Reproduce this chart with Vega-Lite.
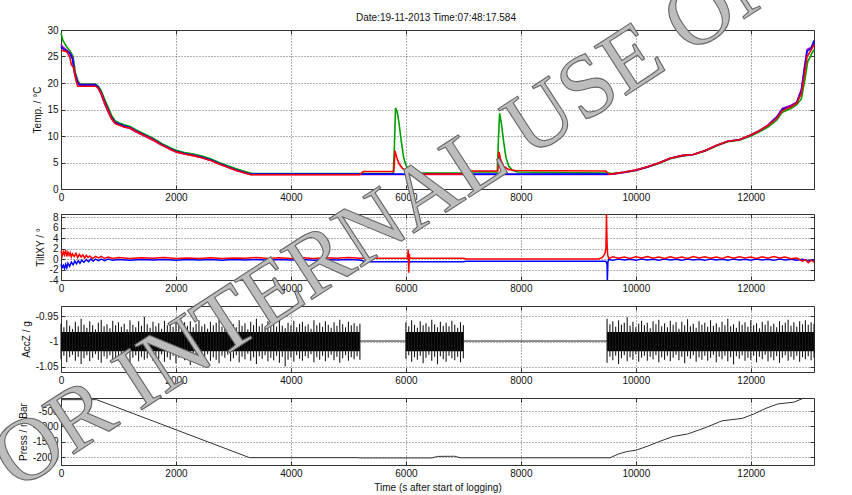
{
"$schema": "https://vega.github.io/schema/vega-lite/v6.json",
"width": 753, "height": 435,
"autosize": {"type": "none"},
"padding": {"left": 61, "top": 30, "right": 38, "bottom": 30},
"background": "white",
"datasets": {
"temp": [
{"t":0,"v":29.4,"s":"G"},{"t":35,"v":28.0,"s":"G"},{"t":100,"v":26.8,"s":"G"},{"t":160,"v":26.0,"s":"G"},{"t":210,"v":25.0,"s":"G"},{"t":250,"v":22.0,"s":"G"},{"t":300,"v":20.3,"s":"G"},{"t":340,"v":19.8,"s":"G"},{"t":600,"v":19.8,"s":"G"},{"t":650,"v":19.4,"s":"G"},{"t":700,"v":18.5,"s":"G"},{"t":760,"v":16.9,"s":"G"},{"t":820,"v":15.4,"s":"G"},{"t":880,"v":13.9,"s":"G"},{"t":940,"v":12.9,"s":"G"},{"t":1000,"v":12.5,"s":"G"},{"t":1100,"v":12.1,"s":"G"},{"t":1200,"v":11.8,"s":"G"},{"t":1300,"v":11.2,"s":"G"},{"t":1450,"v":10.4,"s":"G"},{"t":1600,"v":9.6,"s":"G"},{"t":1750,"v":8.6,"s":"G"},{"t":1900,"v":7.8,"s":"G"},{"t":2000,"v":7.3,"s":"G"},{"t":2150,"v":6.9,"s":"G"},{"t":2300,"v":6.6,"s":"G"},{"t":2450,"v":6.2,"s":"G"},{"t":2600,"v":5.7,"s":"G"},{"t":2750,"v":5.0,"s":"G"},{"t":2900,"v":4.4,"s":"G"},{"t":3050,"v":3.8,"s":"G"},{"t":3200,"v":3.3,"s":"G"},{"t":3320,"v":2.9,"s":"G"},{"t":5780,"v":2.9,"s":"G"},{"t":5800,"v":8.0,"s":"G"},{"t":5820,"v":15.3,"s":"G"},{"t":5850,"v":14.5,"s":"G"},{"t":5880,"v":12.5,"s":"G"},{"t":5920,"v":9.0,"s":"G"},{"t":5960,"v":6.0,"s":"G"},{"t":6000,"v":4.5,"s":"G"},{"t":6060,"v":3.5,"s":"G"},{"t":6150,"v":3.0,"s":"G"},{"t":7000,"v":3.0,"s":"G"},{"t":7050,"v":3.2,"s":"G"},{"t":7590,"v":3.2,"s":"G"},{"t":7610,"v":9.5,"s":"G"},{"t":7630,"v":14.3,"s":"G"},{"t":7660,"v":12.5,"s":"G"},{"t":7700,"v":9.0,"s":"G"},{"t":7740,"v":6.0,"s":"G"},{"t":7790,"v":4.3,"s":"G"},{"t":7860,"v":3.5,"s":"G"},{"t":7950,"v":3.2,"s":"G"},{"t":9500,"v":3.0,"s":"G"},{"t":9600,"v":2.9,"s":"G"},{"t":9800,"v":3.1,"s":"G"},{"t":10000,"v":3.5,"s":"G"},{"t":10200,"v":4.1,"s":"G"},{"t":10400,"v":4.8,"s":"G"},{"t":10600,"v":5.7,"s":"G"},{"t":10800,"v":6.2,"s":"G"},{"t":11000,"v":6.5,"s":"G"},{"t":11200,"v":7.1,"s":"G"},{"t":11400,"v":8.1,"s":"G"},{"t":11600,"v":8.9,"s":"G"},{"t":11800,"v":9.2,"s":"G"},{"t":12000,"v":10.0,"s":"G"},{"t":12150,"v":10.8,"s":"G"},{"t":12300,"v":11.7,"s":"G"},{"t":12450,"v":13.0,"s":"G"},{"t":12550,"v":14.5,"s":"G"},{"t":12700,"v":15.2,"s":"G"},{"t":12800,"v":15.9,"s":"G"},{"t":12880,"v":17.0,"s":"G"},{"t":12940,"v":20.5,"s":"G"},{"t":12990,"v":24.0,"s":"G"},{"t":13050,"v":25.3,"s":"G"},{"t":13100,"v":26.3,"s":"G"},
{"t":0,"v":27.3,"s":"M"},{"t":30,"v":26.8,"s":"M"},{"t":100,"v":26.2,"s":"M"},{"t":160,"v":25.6,"s":"M"},{"t":200,"v":24.8,"s":"M"},{"t":240,"v":22.0,"s":"M"},{"t":290,"v":20.2,"s":"M"},{"t":330,"v":19.7,"s":"M"},{"t":600,"v":19.7,"s":"M"},{"t":650,"v":19.0,"s":"M"},{"t":700,"v":17.8,"s":"M"},{"t":760,"v":16.0,"s":"M"},{"t":820,"v":14.5,"s":"M"},{"t":880,"v":13.2,"s":"M"},{"t":940,"v":12.4,"s":"M"},{"t":1000,"v":12.1,"s":"M"},{"t":1100,"v":11.7,"s":"M"},{"t":1200,"v":11.4,"s":"M"},{"t":1300,"v":10.8,"s":"M"},{"t":1450,"v":10.0,"s":"M"},{"t":1600,"v":9.2,"s":"M"},{"t":1750,"v":8.3,"s":"M"},{"t":1900,"v":7.5,"s":"M"},{"t":2000,"v":7.0,"s":"M"},{"t":2150,"v":6.6,"s":"M"},{"t":2300,"v":6.3,"s":"M"},{"t":2450,"v":5.9,"s":"M"},{"t":2600,"v":5.4,"s":"M"},{"t":2750,"v":4.7,"s":"M"},{"t":2900,"v":4.1,"s":"M"},{"t":3050,"v":3.5,"s":"M"},{"t":3200,"v":3.0,"s":"M"},{"t":3300,"v":2.75,"s":"M"},{"t":9500,"v":2.75,"s":"M"},{"t":9600,"v":2.8,"s":"M"},{"t":9800,"v":3.1,"s":"M"},{"t":10000,"v":3.5,"s":"M"},{"t":10200,"v":4.1,"s":"M"},{"t":10400,"v":4.9,"s":"M"},{"t":10600,"v":5.8,"s":"M"},{"t":10800,"v":6.3,"s":"M"},{"t":11000,"v":6.5,"s":"M"},{"t":11200,"v":7.2,"s":"M"},{"t":11400,"v":8.2,"s":"M"},{"t":11600,"v":9.0,"s":"M"},{"t":11800,"v":9.3,"s":"M"},{"t":12000,"v":10.2,"s":"M"},{"t":12150,"v":11.0,"s":"M"},{"t":12300,"v":12.1,"s":"M"},{"t":12450,"v":13.6,"s":"M"},{"t":12550,"v":15.2,"s":"M"},{"t":12700,"v":15.8,"s":"M"},{"t":12800,"v":16.4,"s":"M"},{"t":12880,"v":18.8,"s":"M"},{"t":12940,"v":23.5,"s":"M"},{"t":12980,"v":26.3,"s":"M"},{"t":13050,"v":26.7,"s":"M"},{"t":13100,"v":27.5,"s":"M"},
{"t":0,"v":26.8,"s":"B"},{"t":30,"v":26.5,"s":"B"},{"t":100,"v":26.0,"s":"B"},{"t":160,"v":25.5,"s":"B"},{"t":200,"v":24.5,"s":"B"},{"t":240,"v":21.5,"s":"B"},{"t":290,"v":20.0,"s":"B"},{"t":330,"v":19.6,"s":"B"},{"t":600,"v":19.6,"s":"B"},{"t":650,"v":19.2,"s":"B"},{"t":700,"v":18.2,"s":"B"},{"t":760,"v":16.5,"s":"B"},{"t":820,"v":15.0,"s":"B"},{"t":880,"v":13.5,"s":"B"},{"t":940,"v":12.6,"s":"B"},{"t":1000,"v":12.3,"s":"B"},{"t":1100,"v":11.9,"s":"B"},{"t":1200,"v":11.6,"s":"B"},{"t":1300,"v":11.0,"s":"B"},{"t":1450,"v":10.2,"s":"B"},{"t":1600,"v":9.4,"s":"B"},{"t":1750,"v":8.4,"s":"B"},{"t":1900,"v":7.6,"s":"B"},{"t":2000,"v":7.1,"s":"B"},{"t":2150,"v":6.7,"s":"B"},{"t":2300,"v":6.4,"s":"B"},{"t":2450,"v":6.0,"s":"B"},{"t":2600,"v":5.5,"s":"B"},{"t":2750,"v":4.8,"s":"B"},{"t":2900,"v":4.2,"s":"B"},{"t":3050,"v":3.6,"s":"B"},{"t":3200,"v":3.1,"s":"B"},{"t":3300,"v":2.8,"s":"B"},{"t":9500,"v":2.8,"s":"B"},{"t":9600,"v":2.85,"s":"B"},{"t":9800,"v":3.2,"s":"B"},{"t":10000,"v":3.6,"s":"B"},{"t":10200,"v":4.2,"s":"B"},{"t":10400,"v":4.9,"s":"B"},{"t":10600,"v":5.8,"s":"B"},{"t":10800,"v":6.3,"s":"B"},{"t":11000,"v":6.5,"s":"B"},{"t":11200,"v":7.2,"s":"B"},{"t":11400,"v":8.2,"s":"B"},{"t":11600,"v":9.0,"s":"B"},{"t":11800,"v":9.3,"s":"B"},{"t":12000,"v":10.2,"s":"B"},{"t":12150,"v":11.0,"s":"B"},{"t":12300,"v":12.0,"s":"B"},{"t":12450,"v":13.5,"s":"B"},{"t":12550,"v":15.0,"s":"B"},{"t":12700,"v":15.6,"s":"B"},{"t":12800,"v":16.3,"s":"B"},{"t":12880,"v":18.5,"s":"B"},{"t":12940,"v":23.0,"s":"B"},{"t":12980,"v":26.0,"s":"B"},{"t":13050,"v":26.5,"s":"B"},{"t":13100,"v":28.0,"s":"B"},
{"t":0,"v":26.2,"s":"R"},{"t":100,"v":25.9,"s":"R"},{"t":150,"v":25.0,"s":"R"},{"t":180,"v":23.5,"s":"R"},{"t":220,"v":22.8,"s":"R"},{"t":260,"v":20.5,"s":"R"},{"t":290,"v":19.4,"s":"R"},{"t":600,"v":19.4,"s":"R"},{"t":650,"v":19.0,"s":"R"},{"t":700,"v":18.0,"s":"R"},{"t":760,"v":16.3,"s":"R"},{"t":820,"v":14.8,"s":"R"},{"t":880,"v":13.3,"s":"R"},{"t":940,"v":12.4,"s":"R"},{"t":1000,"v":12.1,"s":"R"},{"t":1100,"v":11.7,"s":"R"},{"t":1200,"v":11.5,"s":"R"},{"t":1300,"v":10.9,"s":"R"},{"t":1450,"v":10.1,"s":"R"},{"t":1600,"v":9.3,"s":"R"},{"t":1750,"v":8.3,"s":"R"},{"t":1900,"v":7.5,"s":"R"},{"t":2000,"v":7.0,"s":"R"},{"t":2150,"v":6.6,"s":"R"},{"t":2300,"v":6.3,"s":"R"},{"t":2450,"v":5.9,"s":"R"},{"t":2600,"v":5.4,"s":"R"},{"t":2750,"v":4.7,"s":"R"},{"t":2900,"v":4.1,"s":"R"},{"t":3050,"v":3.5,"s":"R"},{"t":3200,"v":3.0,"s":"R"},{"t":3300,"v":2.7,"s":"R"},{"t":5200,"v":2.7,"s":"R"},{"t":5260,"v":3.3,"s":"R"},{"t":5790,"v":3.3,"s":"R"},{"t":5810,"v":7.2,"s":"R"},{"t":5840,"v":6.0,"s":"R"},{"t":5880,"v":4.8,"s":"R"},{"t":5940,"v":3.9,"s":"R"},{"t":6020,"v":3.3,"s":"R"},{"t":6100,"v":2.8,"s":"R"},{"t":6990,"v":2.8,"s":"R"},{"t":7030,"v":3.4,"s":"R"},{"t":7600,"v":3.4,"s":"R"},{"t":7620,"v":7.0,"s":"R"},{"t":7650,"v":5.5,"s":"R"},{"t":7700,"v":4.3,"s":"R"},{"t":7780,"v":3.7,"s":"R"},{"t":7900,"v":3.5,"s":"R"},{"t":9480,"v":3.4,"s":"R"},{"t":9530,"v":2.8,"s":"R"},{"t":9600,"v":2.85,"s":"R"},{"t":9800,"v":3.2,"s":"R"},{"t":10000,"v":3.6,"s":"R"},{"t":10200,"v":4.2,"s":"R"},{"t":10400,"v":4.9,"s":"R"},{"t":10600,"v":5.8,"s":"R"},{"t":10800,"v":6.3,"s":"R"},{"t":11000,"v":6.5,"s":"R"},{"t":11200,"v":7.2,"s":"R"},{"t":11400,"v":8.2,"s":"R"},{"t":11600,"v":9.0,"s":"R"},{"t":11800,"v":9.3,"s":"R"},{"t":12000,"v":10.2,"s":"R"},{"t":12150,"v":11.0,"s":"R"},{"t":12300,"v":12.0,"s":"R"},{"t":12450,"v":13.3,"s":"R"},{"t":12550,"v":14.8,"s":"R"},{"t":12700,"v":15.5,"s":"R"},{"t":12800,"v":16.2,"s":"R"},{"t":12880,"v":18.0,"s":"R"},{"t":12940,"v":22.0,"s":"R"},{"t":12980,"v":25.0,"s":"R"},{"t":13050,"v":26.2,"s":"R"},{"t":13100,"v":27.2,"s":"R"}
],
"tiltR": [
{"t":0,"v":1.5},{"t":20,"v":0.6},{"t":40,"v":1.4},{"t":60,"v":0.8},{"t":80,"v":1.7},{"t":100,"v":0.5},{"t":120,"v":1.3},{"t":140,"v":0.7},{"t":160,"v":1.2},{"t":180,"v":0.4},{"t":200,"v":1.0},{"t":230,"v":0.5},{"t":260,"v":1.1},{"t":290,"v":0.3},{"t":320,"v":0.9},{"t":350,"v":0.4},{"t":380,"v":0.8},{"t":410,"v":0.2},{"t":440,"v":0.7},{"t":470,"v":0.3},{"t":500,"v":0.6},{"t":550,"v":0.1},{"t":600,"v":0.5},{"t":650,"v":0.2},{"t":700,"v":0.5},{"t":760,"v":0.1},{"t":820,"v":0.4},{"t":900,"v":0.1},{"t":1000,"v":0.3},{"t":1200,"v":0.1},{"t":1400,"v":0.25},{"t":1600,"v":0.15},{"t":1800,"v":0.28},{"t":2000,"v":0.1},{"t":2200,"v":0.2},{"t":2400,"v":0.12},{"t":2600,"v":0.27},{"t":2800,"v":0.1},{"t":3000,"v":0.22},{"t":3200,"v":0.15},{"t":3400,"v":0.28},{"t":3600,"v":0.1},{"t":3800,"v":0.25},{"t":4000,"v":0.12},{"t":4200,"v":0.27},{"t":4400,"v":0.1},{"t":4600,"v":0.25},{"t":4800,"v":0.15},{"t":5000,"v":0.28},{"t":5200,"v":0.15},{"t":6030,"v":0.15},{"t":6040,"v":1.8},{"t":6050,"v":-2.6},{"t":6060,"v":1.0},{"t":6070,"v":0.2},{"t":6100,"v":0.15},{"t":7000,"v":0.15},{"t":7050,"v":0.0},{"t":9350,"v":0.0},{"t":9420,"v":0.3},{"t":9460,"v":1.0},{"t":9480,"v":2.0},{"t":9490,"v":8.6},{"t":9500,"v":3.0},{"t":9510,"v":0.8},{"t":9530,"v":0.1},{"t":9600,"v":0.45},{"t":9700,"v":0.15},{"t":9800,"v":0.4},{"t":9900,"v":0.1},{"t":10000,"v":0.45},{"t":10100,"v":0.2},{"t":10200,"v":0.5},{"t":10300,"v":0.15},{"t":10400,"v":0.4},{"t":10500,"v":0.1},{"t":10600,"v":0.45},{"t":10700,"v":0.15},{"t":10800,"v":0.4},{"t":10900,"v":0.1},{"t":11000,"v":0.5},{"t":11100,"v":0.2},{"t":11200,"v":0.45},{"t":11300,"v":0.15},{"t":11400,"v":0.4},{"t":11500,"v":0.1},{"t":11600,"v":0.5},{"t":11700,"v":0.15},{"t":11800,"v":0.45},{"t":11900,"v":0.2},{"t":12000,"v":0.4},{"t":12100,"v":0.1},{"t":12200,"v":0.45},{"t":12300,"v":0.15},{"t":12400,"v":0.5},{"t":12500,"v":0.2},{"t":12600,"v":0.4},{"t":12700,"v":0.05},{"t":12800,"v":0.2},{"t":12900,"v":-0.4},{"t":12950,"v":-0.1},{"t":13000,"v":-0.7},{"t":13050,"v":-0.2},{"t":13100,"v":-0.6}
],
"tiltB": [
{"t":0,"v":-1.0},{"t":20,"v":-1.6},{"t":40,"v":-1.2},{"t":60,"v":-1.8},{"t":80,"v":-1.0},{"t":100,"v":-1.7},{"t":120,"v":-0.8},{"t":150,"v":-1.4},{"t":180,"v":-0.6},{"t":210,"v":-1.1},{"t":240,"v":-0.4},{"t":270,"v":-0.9},{"t":300,"v":-0.3},{"t":330,"v":-0.8},{"t":360,"v":-0.2},{"t":400,"v":-0.6},{"t":440,"v":-0.1},{"t":480,"v":-0.5},{"t":520,"v":0.0},{"t":560,"v":-0.4},{"t":600,"v":0.0},{"t":650,"v":-0.3},{"t":700,"v":0.0},{"t":760,"v":-0.3},{"t":820,"v":0.0},{"t":900,"v":-0.25},{"t":1000,"v":-0.1},{"t":1200,"v":-0.22},{"t":1400,"v":-0.08},{"t":1600,"v":-0.2},{"t":1800,"v":-0.1},{"t":2000,"v":-0.24},{"t":2200,"v":-0.08},{"t":2400,"v":-0.2},{"t":2600,"v":-0.1},{"t":2800,"v":-0.22},{"t":3000,"v":-0.08},{"t":3200,"v":-0.2},{"t":3400,"v":-0.1},{"t":3600,"v":-0.24},{"t":3800,"v":-0.08},{"t":4000,"v":-0.2},{"t":4200,"v":-0.1},{"t":4400,"v":-0.22},{"t":4600,"v":-0.08},{"t":4800,"v":-0.2},{"t":5000,"v":-0.1},{"t":5200,"v":-0.2},{"t":5300,"v":-0.52},{"t":6040,"v":-0.52},{"t":6050,"v":-0.3},{"t":6060,"v":-0.6},{"t":6080,"v":-0.52},{"t":7000,"v":-0.52},{"t":7050,"v":-0.4},{"t":9480,"v":-0.4},{"t":9500,"v":-1.0},{"t":9505,"v":-4.0},{"t":9515,"v":-0.5},{"t":9530,"v":-0.1},{"t":9600,"v":-0.25},{"t":9700,"v":0.0},{"t":9800,"v":-0.2},{"t":9900,"v":-0.05},{"t":10000,"v":-0.25},{"t":10100,"v":0.0},{"t":10200,"v":-0.2},{"t":10300,"v":-0.05},{"t":10400,"v":-0.25},{"t":10500,"v":0.0},{"t":10600,"v":-0.2},{"t":10700,"v":-0.05},{"t":10800,"v":-0.25},{"t":10900,"v":0.0},{"t":11000,"v":-0.2},{"t":11100,"v":-0.05},{"t":11200,"v":-0.25},{"t":11300,"v":0.0},{"t":11400,"v":-0.2},{"t":11500,"v":-0.05},{"t":11600,"v":-0.25},{"t":11700,"v":0.0},{"t":11800,"v":-0.2},{"t":11900,"v":-0.05},{"t":12000,"v":-0.25},{"t":12100,"v":0.0},{"t":12200,"v":-0.2},{"t":12300,"v":-0.05},{"t":12400,"v":-0.25},{"t":12500,"v":0.0},{"t":12600,"v":-0.2},{"t":12700,"v":-0.05},{"t":12800,"v":-0.25},{"t":12900,"v":-0.05},{"t":13000,"v":-0.3},{"t":13100,"v":-0.2}
],
"acc": [
{"t":0,"h":-0.965,"l":-1.035,"g":"a"},{"t":50,"h":-0.972,"l":-1.028,"g":"a"},{"t":100,"h":-0.958,"l":-1.041,"g":"a"},{"t":150,"h":-0.969,"l":-1.031,"g":"a"},{"t":200,"h":-0.975,"l":-1.026,"g":"a"},{"t":250,"h":-0.961,"l":-1.038,"g":"a"},{"t":300,"h":-0.970,"l":-1.030,"g":"a"},{"t":350,"h":-0.955,"l":-1.044,"g":"a"},{"t":400,"h":-0.967,"l":-1.033,"g":"a"},{"t":450,"h":-0.973,"l":-1.027,"g":"a"},{"t":500,"h":-0.960,"l":-1.039,"g":"a"},{"t":550,"h":-0.968,"l":-1.032,"g":"a"},{"t":600,"h":-0.976,"l":-1.025,"g":"a"},{"t":650,"h":-0.963,"l":-1.036,"g":"a"},{"t":700,"h":-0.957,"l":-1.042,"g":"a"},{"t":750,"h":-0.970,"l":-1.029,"g":"a"},{"t":800,"h":-0.966,"l":-1.034,"g":"a"},{"t":850,"h":-0.974,"l":-1.027,"g":"a"},{"t":900,"h":-0.959,"l":-1.040,"g":"a"},{"t":950,"h":-0.968,"l":-1.031,"g":"a"},{"t":1000,"h":-0.962,"l":-1.037,"g":"a"},{"t":1050,"h":-0.971,"l":-1.028,"g":"a"},{"t":1100,"h":-0.965,"l":-1.035,"g":"a"},{"t":1150,"h":-0.976,"l":-1.024,"g":"a"},{"t":1200,"h":-0.958,"l":-1.041,"g":"a"},{"t":1250,"h":-0.967,"l":-1.032,"g":"a"},{"t":1300,"h":-0.972,"l":-1.027,"g":"a"},{"t":1350,"h":-0.960,"l":-1.039,"g":"a"},{"t":1400,"h":-0.969,"l":-1.030,"g":"a"},{"t":1450,"h":-0.951,"l":-1.036,"g":"a"},{"t":1500,"h":-0.966,"l":-1.033,"g":"a"},{"t":1550,"h":-0.973,"l":-1.026,"g":"a"},{"t":1600,"h":-0.961,"l":-1.038,"g":"a"},{"t":1650,"h":-0.970,"l":-1.029,"g":"a"},{"t":1700,"h":-0.964,"l":-1.035,"g":"a"},{"t":1750,"h":-0.975,"l":-1.025,"g":"a"},{"t":1800,"h":-0.959,"l":-1.040,"g":"a"},{"t":1850,"h":-0.968,"l":-1.031,"g":"a"},{"t":1900,"h":-0.963,"l":-1.036,"g":"a"},{"t":1950,"h":-0.971,"l":-1.028,"g":"a"},{"t":2000,"h":-0.957,"l":-1.043,"g":"a"},{"t":2050,"h":-0.967,"l":-1.032,"g":"a"},{"t":2100,"h":-0.974,"l":-1.026,"g":"a"},{"t":2150,"h":-0.962,"l":-1.037,"g":"a"},{"t":2200,"h":-0.969,"l":-1.030,"g":"a"},{"t":2250,"h":-0.960,"l":-1.046,"g":"a"},{"t":2300,"h":-0.972,"l":-1.028,"g":"a"},{"t":2350,"h":-0.965,"l":-1.034,"g":"a"},{"t":2400,"h":-0.958,"l":-1.041,"g":"a"},{"t":2450,"h":-0.970,"l":-1.029,"g":"a"},{"t":2500,"h":-0.966,"l":-1.033,"g":"a"},{"t":2550,"h":-0.975,"l":-1.025,"g":"a"},{"t":2600,"h":-0.961,"l":-1.038,"g":"a"},{"t":2650,"h":-0.968,"l":-1.031,"g":"a"},{"t":2700,"h":-0.963,"l":-1.036,"g":"a"},{"t":2750,"h":-0.956,"l":-1.043,"g":"a"},{"t":2800,"h":-0.971,"l":-1.028,"g":"a"},{"t":2850,"h":-0.967,"l":-1.032,"g":"a"},{"t":2900,"h":-0.974,"l":-1.026,"g":"a"},{"t":2950,"h":-0.960,"l":-1.039,"g":"a"},{"t":3000,"h":-0.966,"l":-1.033,"g":"a"},{"t":3050,"h":-0.972,"l":-1.027,"g":"a"},{"t":3100,"h":-0.958,"l":-1.041,"g":"a"},{"t":3150,"h":-0.969,"l":-1.030,"g":"a"},{"t":3200,"h":-0.964,"l":-1.035,"g":"a"},{"t":3250,"h":-0.976,"l":-1.024,"g":"a"},{"t":3300,"h":-0.961,"l":-1.038,"g":"a"},{"t":3350,"h":-0.968,"l":-1.031,"g":"a"},{"t":3400,"h":-0.955,"l":-1.044,"g":"a"},{"t":3450,"h":-0.970,"l":-1.029,"g":"a"},{"t":3500,"h":-0.965,"l":-1.034,"g":"a"},{"t":3550,"h":-0.973,"l":-1.027,"g":"a"},{"t":3600,"h":-0.960,"l":-1.039,"g":"a"},{"t":3650,"h":-0.967,"l":-1.032,"g":"a"},{"t":3700,"h":-0.962,"l":-1.037,"g":"a"},{"t":3750,"h":-0.971,"l":-1.028,"g":"a"},{"t":3800,"h":-0.957,"l":-1.042,"g":"a"},{"t":3850,"h":-0.969,"l":-1.030,"g":"a"},{"t":3900,"h":-0.974,"l":-1.049,"g":"a"},{"t":3950,"h":-0.963,"l":-1.036,"g":"a"},{"t":4000,"h":-0.968,"l":-1.031,"g":"a"},{"t":4050,"h":-0.959,"l":-1.040,"g":"a"},{"t":4100,"h":-0.972,"l":-1.027,"g":"a"},{"t":4150,"h":-0.965,"l":-1.034,"g":"a"},{"t":4200,"h":-0.961,"l":-1.038,"g":"a"},{"t":4250,"h":-0.970,"l":-1.029,"g":"a"},{"t":4300,"h":-0.966,"l":-1.033,"g":"a"},{"t":4350,"h":-0.975,"l":-1.025,"g":"a"},{"t":4400,"h":-0.958,"l":-1.041,"g":"a"},{"t":4450,"h":-0.968,"l":-1.031,"g":"a"},{"t":4500,"h":-0.963,"l":-1.036,"g":"a"},{"t":4550,"h":-0.971,"l":-1.028,"g":"a"},{"t":4600,"h":-0.960,"l":-1.039,"g":"a"},{"t":4650,"h":-0.967,"l":-1.032,"g":"a"},{"t":4700,"h":-0.973,"l":-1.026,"g":"a"},{"t":4750,"h":-0.962,"l":-1.037,"g":"a"},{"t":4800,"h":-0.969,"l":-1.030,"g":"a"},{"t":4850,"h":-0.957,"l":-1.042,"g":"a"},{"t":4900,"h":-0.966,"l":-1.033,"g":"a"},{"t":4950,"h":-0.972,"l":-1.027,"g":"a"},{"t":5000,"h":-0.961,"l":-1.038,"g":"a"},{"t":5050,"h":-0.968,"l":-1.031,"g":"a"},{"t":5100,"h":-0.964,"l":-1.035,"g":"a"},{"t":5150,"h":-0.970,"l":-1.029,"g":"a"},{"t":5200,"h":-0.965,"l":-1.036,"g":"a"},
{"t":6000,"h":-0.962,"l":-1.034,"g":"b"},{"t":6050,"h":-0.970,"l":-1.027,"g":"b"},{"t":6100,"h":-0.958,"l":-1.040,"g":"b"},{"t":6150,"h":-0.967,"l":-1.031,"g":"b"},{"t":6200,"h":-0.973,"l":-1.036,"g":"b"},{"t":6250,"h":-0.960,"l":-1.028,"g":"b"},{"t":6300,"h":-0.968,"l":-1.043,"g":"b"},{"t":6350,"h":-0.964,"l":-1.032,"g":"b"},{"t":6400,"h":-0.971,"l":-1.026,"g":"b"},{"t":6450,"h":-0.957,"l":-1.038,"g":"b"},{"t":6500,"h":-0.966,"l":-1.030,"g":"b"},{"t":6550,"h":-0.972,"l":-1.045,"g":"b"},{"t":6600,"h":-0.961,"l":-1.029,"g":"b"},{"t":6650,"h":-0.969,"l":-1.035,"g":"b"},{"t":6700,"h":-0.963,"l":-1.040,"g":"b"},{"t":6750,"h":-0.970,"l":-1.028,"g":"b"},{"t":6800,"h":-0.959,"l":-1.033,"g":"b"},{"t":6850,"h":-0.967,"l":-1.037,"g":"b"},{"t":6900,"h":-0.973,"l":-1.030,"g":"b"},{"t":6950,"h":-0.962,"l":-1.041,"g":"b"},{"t":7000,"h":-0.968,"l":-1.033,"g":"b"},
{"t":9500,"h":-0.955,"l":-1.042,"g":"c"},{"t":9550,"h":-0.966,"l":-1.030,"g":"c"},{"t":9600,"h":-0.960,"l":-1.037,"g":"c"},{"t":9650,"h":-0.971,"l":-1.028,"g":"c"},{"t":9700,"h":-0.958,"l":-1.044,"g":"c"},{"t":9750,"h":-0.967,"l":-1.033,"g":"c"},{"t":9800,"h":-0.963,"l":-1.027,"g":"c"},{"t":9850,"h":-0.952,"l":-1.039,"g":"c"},{"t":9900,"h":-0.969,"l":-1.031,"g":"c"},{"t":9950,"h":-0.961,"l":-1.036,"g":"c"},{"t":10000,"h":-0.972,"l":-1.025,"g":"c"},{"t":10050,"h":-0.965,"l":-1.040,"g":"c"},{"t":10100,"h":-0.959,"l":-1.032,"g":"c"},{"t":10150,"h":-0.968,"l":-1.028,"g":"c"},{"t":10200,"h":-0.963,"l":-1.038,"g":"c"},{"t":10250,"h":-0.974,"l":-1.030,"g":"c"},{"t":10300,"h":-0.960,"l":-1.035,"g":"c"},{"t":10350,"h":-0.966,"l":-1.027,"g":"c"},{"t":10400,"h":-0.957,"l":-1.041,"g":"c"},{"t":10450,"h":-0.970,"l":-1.031,"g":"c"},{"t":10500,"h":-0.964,"l":-1.036,"g":"c"},{"t":10550,"h":-0.972,"l":-1.028,"g":"c"},{"t":10600,"h":-0.959,"l":-1.039,"g":"c"},{"t":10650,"h":-0.967,"l":-1.032,"g":"c"},{"t":10700,"h":-0.962,"l":-1.026,"g":"c"},{"t":10750,"h":-0.975,"l":-1.037,"g":"c"},{"t":10800,"h":-0.961,"l":-1.030,"g":"c"},{"t":10850,"h":-0.968,"l":-1.043,"g":"c"},{"t":10900,"h":-0.956,"l":-1.029,"g":"c"},{"t":10950,"h":-0.970,"l":-1.034,"g":"c"},{"t":11000,"h":-0.965,"l":-1.027,"g":"c"},{"t":11050,"h":-0.973,"l":-1.040,"g":"c"},{"t":11100,"h":-0.960,"l":-1.031,"g":"c"},{"t":11150,"h":-0.967,"l":-1.036,"g":"c"},{"t":11200,"h":-0.963,"l":-1.028,"g":"c"},{"t":11250,"h":-0.971,"l":-1.038,"g":"c"},{"t":11300,"h":-0.958,"l":-1.032,"g":"c"},{"t":11350,"h":-0.969,"l":-1.026,"g":"c"},{"t":11400,"h":-0.964,"l":-1.041,"g":"c"},{"t":11450,"h":-0.972,"l":-1.030,"g":"c"},{"t":11500,"h":-0.961,"l":-1.035,"g":"c"},{"t":11550,"h":-0.968,"l":-1.028,"g":"c"},{"t":11600,"h":-0.955,"l":-1.039,"g":"c"},{"t":11650,"h":-0.970,"l":-1.031,"g":"c"},{"t":11700,"h":-0.966,"l":-1.045,"g":"c"},{"t":11750,"h":-0.973,"l":-1.029,"g":"c"},{"t":11800,"h":-0.960,"l":-1.034,"g":"c"},{"t":11850,"h":-0.967,"l":-1.027,"g":"c"},{"t":11900,"h":-0.962,"l":-1.038,"g":"c"},{"t":11950,"h":-0.971,"l":-1.032,"g":"c"},{"t":12000,"h":-0.958,"l":-1.036,"g":"c"},{"t":12050,"h":-0.968,"l":-1.028,"g":"c"},{"t":12100,"h":-0.964,"l":-1.041,"g":"c"},{"t":12150,"h":-0.974,"l":-1.030,"g":"c"},{"t":12200,"h":-0.961,"l":-1.035,"g":"c"},{"t":12250,"h":-0.967,"l":-1.026,"g":"c"},{"t":12300,"h":-0.959,"l":-1.039,"g":"c"},{"t":12350,"h":-0.970,"l":-1.031,"g":"c"},{"t":12400,"h":-0.965,"l":-1.037,"g":"c"},{"t":12450,"h":-0.972,"l":-1.029,"g":"c"},{"t":12500,"h":-0.960,"l":-1.042,"g":"c"},{"t":12550,"h":-0.968,"l":-1.032,"g":"c"},{"t":12600,"h":-0.963,"l":-1.027,"g":"c"},{"t":12650,"h":-0.957,"l":-1.038,"g":"c"},{"t":12700,"h":-0.969,"l":-1.030,"g":"c"},{"t":12750,"h":-0.962,"l":-1.036,"g":"c"},{"t":12800,"h":-0.971,"l":-1.028,"g":"c"},{"t":12850,"h":-0.960,"l":-1.040,"g":"c"},{"t":12900,"h":-0.966,"l":-1.031,"g":"c"},{"t":12950,"h":-0.958,"l":-1.035,"g":"c"},{"t":13000,"h":-0.967,"l":-1.029,"g":"c"},{"t":13050,"h":-0.962,"l":-1.037,"g":"c"},{"t":13100,"h":-0.965,"l":-1.032,"g":"c"}
],
"accflat": [
{"t":5200,"v":-0.999,"g":"a"},{"t":6000,"v":-0.999,"g":"a"},{"t":7000,"v":-0.999,"g":"b"},{"t":9500,"v":-0.999,"g":"b"}
],
"press": [
{"t":0,"v":-130},{"t":620,"v":-130},{"t":3280,"v":-2020},{"t":5150,"v":-2020},{"t":5200,"v":-2030},{"t":6450,"v":-2030},{"t":6550,"v":-1980},{"t":6850,"v":-1975},{"t":6950,"v":-2025},{"t":9550,"v":-2025},{"t":9700,"v":-1900},{"t":9850,"v":-1820},{"t":10000,"v":-1780},{"t":10200,"v":-1650},{"t":10400,"v":-1500},{"t":10650,"v":-1330},{"t":10900,"v":-1250},{"t":11200,"v":-1050},{"t":11500,"v":-820},{"t":11850,"v":-740},{"t":12050,"v":-600},{"t":12250,"v":-420},{"t":12470,"v":-270},{"t":12750,"v":-210},{"t":12920,"v":-80}
],
"heading": [{"t":6524,"v":32.3,"label":"Date:19-11-2013 Time:07:48:17.584"}],
"stamp": [{"t":6193,"v":11.46,"label":"FOR INTERNAL USE ONLY"}]
},
"resolve": {"scale": {"x": "independent", "y": "independent"}},
"layer": [
{
"data": {"name": "temp"},
"transform": [{"filter": {"field": "s", "oneOf": ["G", "M"]}}],
"mark": {"type": "line", "strokeWidth": 1.6},
"encoding": {
"x": {"field": "t", "type": "quantitative", "scale": {"domain": [0, 13100], "nice": false, "zero": false}, "axis": {"orient": "top", "offset": 0, "labels": false, "grid": true, "values": [0,2000,4000,6000,8000,10000,12000], "title": null}},
"y": {"field": "v", "type": "quantitative", "scale": {"domain": [0, 30], "range": [159, 0], "nice": false, "zero": false}, "axis": {"orient": "left", "grid": true, "values": [0,5,10,15,20,25,30], "format": "d", "title": "Temp. / °C"}},
"color": {"field": "s", "type": "nominal", "scale": {"domain": ["G","M","B","R"], "range": ["#00a000","#b000c0","#0000ff","#ff0000"]}, "legend": null}
}
},
{
"data": {"name": "temp"},
"transform": [{"filter": {"field": "s", "oneOf": ["B", "R"]}}],
"mark": {"type": "line", "strokeWidth": 1.6},
"encoding": {
"x": {"field": "t", "type": "quantitative", "scale": {"domain": [0, 13100], "nice": false, "zero": false}, "axis": {"orient": "bottom", "offset": -276, "grid": false, "values": [0,2000,4000,6000,8000,10000,12000], "format": "d", "title": null}},
"y": {"field": "v", "type": "quantitative", "scale": {"domain": [0, 30], "range": [159, 0], "nice": false, "zero": false}, "axis": {"orient": "right", "grid": false, "labels": false, "values": [0,5,10,15,20,25,30], "title": null}},
"color": {"field": "s", "type": "nominal", "scale": {"domain": ["G","M","B","R"], "range": ["#00a000","#b000c0","#0000ff","#ff0000"]}, "legend": null}
}
},
{
"data": {"name": "heading"},
"mark": {"type": "text", "font": "Liberation Sans", "fontSize": 10, "color": "#111", "align": "center", "baseline": "middle"},
"encoding": {
"x": {"field": "t", "type": "quantitative", "scale": {"domain": [0, 13100], "nice": false, "zero": false}, "axis": null},
"y": {"field": "v", "type": "quantitative", "scale": {"domain": [0, 30], "range": [159, 0], "nice": false, "zero": false}, "axis": null},
"text": {"field": "label"}
}
},
{
"data": {"name": "tiltB"},
"mark": {"type": "line", "strokeWidth": 1.5, "color": "#0000ff"},
"encoding": {
"x": {"field": "t", "type": "quantitative", "scale": {"domain": [0, 13100], "nice": false, "zero": false}, "axis": {"orient": "top", "offset": -184, "labels": false, "grid": true, "values": [0,2000,4000,6000,8000,10000,12000], "title": null}},
"y": {"field": "v", "type": "quantitative", "scale": {"domain": [-4, 8.6], "range": [250, 184], "nice": false, "zero": false}, "axis": {"orient": "left", "grid": true, "values": [-4,-2,0,2,4,6,8], "format": "d", "title": "TiltXY / °"}}
}
},
{
"data": {"name": "tiltR"},
"mark": {"type": "line", "strokeWidth": 1.5, "color": "#ff0000"},
"encoding": {
"x": {"field": "t", "type": "quantitative", "scale": {"domain": [0, 13100], "nice": false, "zero": false}, "axis": {"orient": "bottom", "offset": -185, "grid": false, "values": [0,2000,4000,6000,8000,10000,12000], "format": "d", "title": null}},
"y": {"field": "v", "type": "quantitative", "scale": {"domain": [-4, 8.6], "range": [250, 184], "nice": false, "zero": false}, "axis": {"orient": "right", "grid": false, "labels": false, "values": [-4,-2,0,2,4,6,8], "title": null}}
}
},
{
"data": {"name": "acc"},
"mark": {"type": "area", "color": "#000000", "opacity": 1},
"encoding": {
"x": {"field": "t", "type": "quantitative", "scale": {"domain": [0, 13100], "nice": false, "zero": false}, "axis": {"orient": "top", "offset": -276, "labels": false, "grid": true, "values": [0,2000,4000,6000,8000,10000,12000], "title": null}},
"y": {"datum": -1.019, "type": "quantitative", "scale": {"domain": [-1.06, -0.93], "range": [342, 276], "nice": false, "zero": false}, "axis": {"orient": "left", "grid": true, "values": [-1.05,-1,-0.95], "format": ".2~f", "title": "AccZ / g"}},
"y2": {"datum": -0.981},
"detail": {"field": "g", "type": "nominal"}
}
},
{
"data": {"name": "acc"},
"mark": {"type": "rule", "color": "#1a1a1a", "strokeWidth": 1.1},
"encoding": {
"x": {"field": "t", "type": "quantitative", "scale": {"domain": [0, 13100], "nice": false, "zero": false}, "axis": {"orient": "bottom", "offset": -93, "grid": false, "values": [0,2000,4000,6000,8000,10000,12000], "format": "d", "title": null}},
"y": {"field": "l", "type": "quantitative", "scale": {"domain": [-1.06, -0.93], "range": [342, 276], "nice": false, "zero": false}, "axis": {"orient": "right", "grid": false, "labels": false, "values": [-1.05,-1,-0.95], "title": null}},
"y2": {"field": "h"}
}
},
{
"data": {"name": "accflat"},
"mark": {"type": "line", "color": "#222222", "strokeWidth": 1},
"encoding": {
"x": {"field": "t", "type": "quantitative", "scale": {"domain": [0, 13100], "nice": false, "zero": false}, "axis": null},
"y": {"field": "v", "type": "quantitative", "scale": {"domain": [-1.06, -0.93], "range": [342, 276], "nice": false, "zero": false}, "axis": null},
"detail": {"field": "g", "type": "nominal"}
}
},
{
"data": {"name": "press"},
"mark": {"type": "line", "color": "#333333", "strokeWidth": 1},
"encoding": {
"x": {"field": "t", "type": "quantitative", "scale": {"domain": [0, 13100], "nice": false, "zero": false}, "axis": {"orient": "top", "offset": -368, "labels": false, "grid": true, "values": [0,2000,4000,6000,8000,10000,12000], "title": null}},
"y": {"field": "v", "type": "quantitative", "scale": {"domain": [-2260, -75], "range": [435, 368], "nice": false, "zero": false}, "axis": {"orient": "left", "grid": true, "values": [-2000,-1500,-1000,-500], "format": "d", "title": "Press / mBar"}}
}
},
{
"data": {"name": "press"},
"mark": {"type": "line", "color": "#333333", "strokeWidth": 1, "opacity": 0},
"encoding": {
"x": {"field": "t", "type": "quantitative", "scale": {"domain": [0, 13100], "nice": false, "zero": false}, "axis": {"orient": "bottom", "offset": 0, "grid": false, "values": [0,2000,4000,6000,8000,10000,12000], "format": "d", "title": "Time (s after start of logging)"}},
"y": {"field": "v", "type": "quantitative", "scale": {"domain": [-2260, -75], "range": [435, 368], "nice": false, "zero": false}, "axis": {"orient": "right", "grid": false, "labels": false, "values": [-2000,-1500,-1000,-500], "title": null}}
}
},
{
"data": {"name": "stamp"},
"mark": {"type": "text", "font": "Liberation Serif", "fontSize": 89, "angle": 327, "align": "center", "baseline": "middle", "fill": "#bdbdbd", "stroke": "#666666", "strokeWidth": 1.1},
"encoding": {
"x": {"field": "t", "type": "quantitative", "scale": {"domain": [0, 13100], "nice": false, "zero": false}, "axis": null},
"y": {"field": "v", "type": "quantitative", "scale": {"domain": [-4, 8.6], "range": [250, 184], "nice": false, "zero": false}, "axis": null},
"text": {"field": "label"}
}
}
],
"config": {
"view": {"stroke": null},
"locale": {"number": {"decimal": ".", "thousands": ",", "grouping": [3], "currency": ["$", ""], "minus": "-"}},
"axis": {"domain": true, "domainColor": "#333333", "domainWidth": 1, "ticks": true, "tickColor": "#333333", "tickSize": -4, "tickWidth": 1, "labelPadding": 7, "labelFont": "Liberation Sans", "labelFontSize": 10, "labelColor": "#111111", "labelFlush": false, "labelOverlap": false, "titleFont": "Liberation Sans", "titleFontSize": 10, "titleFontWeight": "normal", "titleColor": "#111111", "titlePadding": 4, "gridColor": "#555555", "gridDash": [1, 2], "gridWidth": 1, "gridOpacity": 0.9}
}
}
